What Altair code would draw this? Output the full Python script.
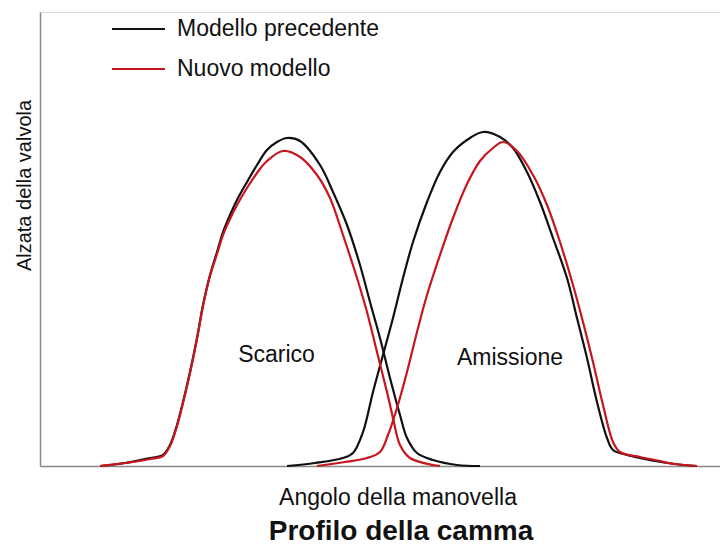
import altair as alt
import pandas as pd

# Valve lift curves (x: crank angle position, y: lift)
old_exhaust_x = [60, 85, 110, 123, 130, 137, 143, 150, 157, 163, 170, 177, 183, 190, 197, 207, 217, 227, 237, 247,
                 260, 280, 293, 307, 320, 330, 340, 350, 360, 367, 377, 393, 417, 440]
old_exhaust_y = [0, 3, 8, 11, 21, 41, 64, 94, 128, 161, 191, 214, 234, 251, 266, 284, 301, 316, 324, 328,
                 325, 301, 274, 241, 201, 164, 128, 88, 51, 28, 13, 6, 1, 0]

new_exhaust_x = [60, 85, 110, 123, 130, 137, 143, 150, 157, 163, 170, 177, 183, 190, 197, 207, 217, 227, 243,
                 260, 277, 290, 303, 317, 327, 337, 347, 353, 360, 370, 393, 400]
new_exhaust_y = [0, 3, 7, 10, 20, 40, 63, 93, 127, 160, 190, 212, 231, 247, 261, 278, 293, 305, 315,
                 309, 291, 268, 231, 188, 154, 114, 74, 48, 21, 8, 1, 0]

old_intake_x = [247, 275, 303, 313, 323, 333, 343, 353, 363, 373, 387, 400, 413, 430, 443, 460, 473, 487, 500,
                513, 527, 537, 547, 557, 567, 573, 587, 600, 615, 635, 657]
old_intake_y = [0, 3, 8, 13, 34, 74, 111, 148, 188, 224, 264, 294, 314, 328, 334, 329, 318, 294, 264,
                228, 188, 148, 108, 64, 28, 16, 11, 8, 5, 2, 0]

new_intake_x = [277, 305, 327, 340, 348, 357, 367, 377, 387, 400, 413, 427, 440, 453, 463, 477, 493, 507,
                520, 533, 543, 553, 563, 573, 580, 600, 615, 635, 657]
new_intake_y = [0, 4, 8, 14, 31, 58, 94, 134, 171, 211, 248, 282, 305, 318, 324, 315, 291, 261,
                224, 181, 144, 104, 61, 24, 14, 9, 6, 2, 0]

series_names = ["Modello precedente", "Nuovo modello"]
series_colors = ["#111111", "#c8161e"]

label_text = ["Scarico", "Amissione"]
label_x = [236.5, 470]
label_y = [111, 108]

rows = []
for name, curve, xs, ys in [
    (series_names[0], "old_exhaust", old_exhaust_x, old_exhaust_y),
    (series_names[0], "old_intake", old_intake_x, old_intake_y),
    (series_names[1], "new_exhaust", new_exhaust_x, new_exhaust_y),
    (series_names[1], "new_intake", new_intake_x, new_intake_y),
]:
    for x, y in zip(xs, ys):
        rows.append({"modello": name, "curva": curve, "angolo": x, "alzata": y})
df = pd.DataFrame(rows)
labels_df = pd.DataFrame({"testo": label_text, "angolo": label_x, "alzata": label_y})

REG = "Liberation Sans, Arial, sans-serif"

x_scale = alt.Scale(domain=[0, 680], nice=False, zero=False)
y_scale = alt.Scale(domain=[0, 454], nice=False)

lines = alt.Chart(df).mark_line(interpolate="catmull-rom", strokeWidth=2.2).encode(
    x=alt.X("angolo:Q", scale=x_scale,
            axis=alt.Axis(title="Angolo della manovella", labels=False, ticks=False, grid=False,
                          domainColor="#888888", domainWidth=1.5,
                          titleX=357.5, titleY=38, titleBaseline="alphabetic", titleAlign="center",
                          titleFontSize=23, titleFont=REG, titleFontWeight="normal", titleColor="#111111")),
    y=alt.Y("alzata:Q", scale=y_scale,
            axis=alt.Axis(title="Alzata della valvola", labels=False, ticks=False, grid=False,
                          domainColor="#888888", domainWidth=1.5,
                          titleX=-10, titleY=173, titleAngle=270, titleBaseline="alphabetic", titleAlign="center",
                          titleFontSize=20, titleFont=REG, titleFontWeight="normal", titleColor="#111111")),
    color=alt.Color("modello:N", scale=alt.Scale(domain=series_names, range=series_colors),
                    legend=alt.Legend(orient="none", legendX=71, legendY=-10.5, title=None,
                                      symbolType="stroke", symbolSize=2809, symbolStrokeWidth=2,
                                      labelFontSize=23, labelFont=REG, labelColor="#111111",
                                      labelOffset=11, labelLimit=400, rowPadding=-16, padding=0)),
    detail="curva:N",
    order=alt.Order("angolo:Q"),
)

texts = alt.Chart(labels_df).mark_text(font=REG, fontSize=23, color="#111111", baseline="middle", align="center").encode(
    x=alt.X("angolo:Q", scale=x_scale),
    y=alt.Y("alzata:Q", scale=y_scale),
    text="testo:N",
)

chart = alt.layer(lines, texts).properties(
    width=680,
    height=454,
    title=alt.TitleParams("Profilo della camma", orient="bottom", anchor="middle", frame="group",
                          fontSize=28, font=REG, fontWeight="bold", color="#111111", offset=9, dx=21),
    autosize=alt.AutoSizeParams(type="none"),
    padding={"left": 32, "top": 4, "right": 0, "bottom": 84},
).configure_view(stroke=None).configure(background="white")

chart.save("out.html", embed_options={"renderer": "svg", "actions": False})
